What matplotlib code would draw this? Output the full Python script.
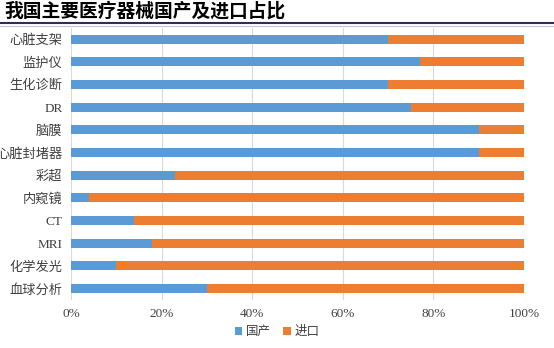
import numpy as np
import matplotlib
matplotlib.use("Agg")
import matplotlib.pyplot as plt
from matplotlib.lines import Line2D

plt.rcParams['font.family'] = ['Liberation Serif', 'Noto Sans CJK SC', 'DejaVu Sans']

# data (top to bottom as in the picture)
categories = ['心脏支架', '监护仪', '生化诊断', 'DR', '脑膜', '心脏封堵器',
              '彩超', '内窥镜', 'CT', 'MRI', '化学发光', '血球分析']
domestic = [70, 77, 70, 75, 90, 90, 23, 4, 14, 18, 10, 30]
imported = [100 - d for d in domestic]
xticks = [0, 20, 40, 60, 80, 100]

blue = '#5B9BD5'
orange = '#ED7D31'

fig = plt.figure(figsize=(5.54, 3.48), dpi=100)
ax = fig.add_axes([0.128, 0.138, 0.818, 0.782])

y = np.arange(len(categories))
ax.barh(y, domestic, height=0.4, color=blue, label='国产', zorder=3)
ax.barh(y, imported, left=domestic, height=0.4, color=orange, label='进口', zorder=3)

ax.set_ylim(len(categories) - 0.5, -0.5)
ax.set_xlim(0, 100)
ax.set_yticks(y)
ax.set_yticklabels(categories, fontsize=9.5, color='#404040')
ax.set_xticks(xticks)
ax.set_xticklabels([f'{t}%' for t in xticks], fontsize=9.5, color='#404040')
ax.tick_params(length=0, pad=6)
ax.tick_params(axis='x', pad=6)
ax.grid(axis='x', color='#D9D9D9', linewidth=0.8, zorder=0)
for s in ax.spines.values():
    s.set_visible(False)

fig.legend(loc='center', bbox_to_anchor=(0.5, 0.045), ncol=2, frameon=False,
           fontsize=9, handlelength=0.6, handleheight=0.6, columnspacing=1.0,
           handletextpad=0.3, labelcolor='#404040')

# title and rule under it
fig.text(0.008, 0.967, '我国主要医疗器械国产及进口占比', fontsize=13.5, fontweight='bold',
         family=['Noto Sans CJK SC'], va='center', ha='left', color='black')
fig.add_artist(Line2D([0, 1], [0.933, 0.933], color='#2E2E5E', linewidth=1.5))
fig.add_artist(Line2D([0, 1], [0.925, 0.925], color='#B4B4D8', linewidth=0.6))

fig.savefig('out.png', dpi=100)
